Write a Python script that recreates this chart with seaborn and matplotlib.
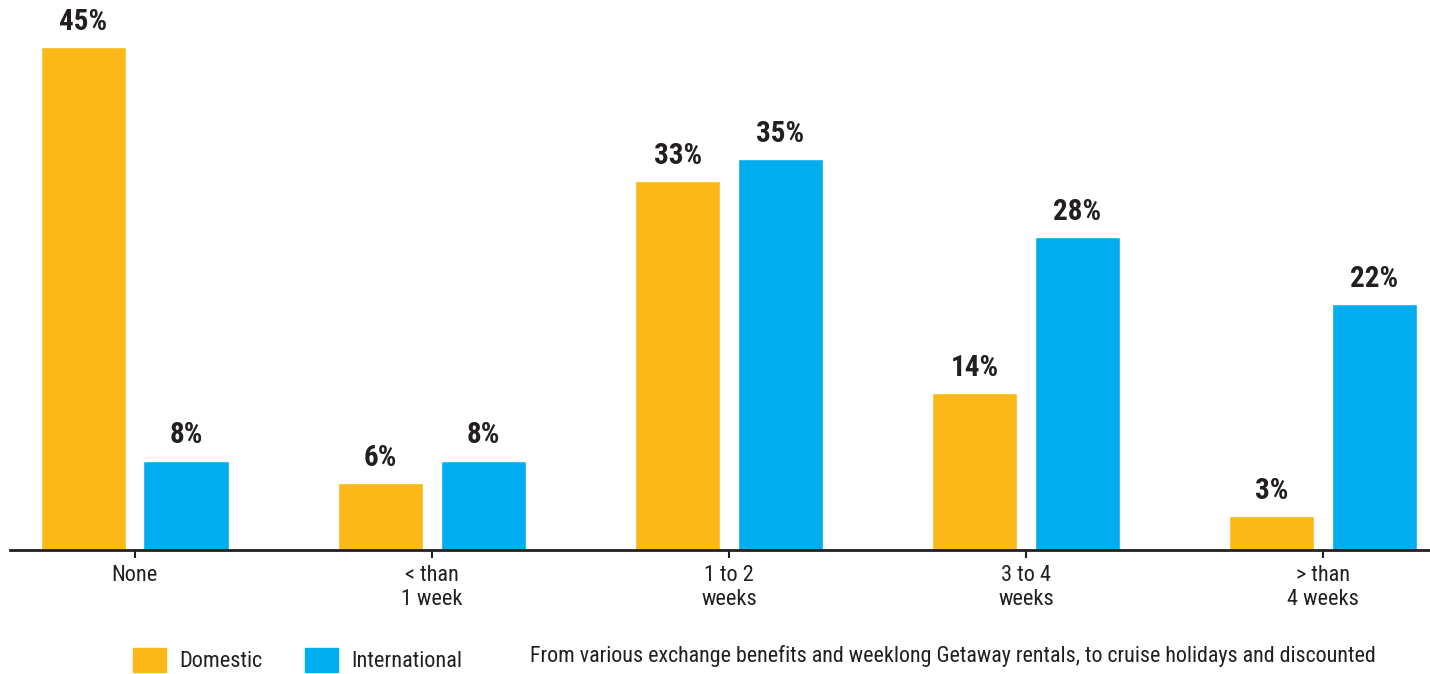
import pandas as pd
import seaborn as sns
import matplotlib.pyplot as plt

# Data
categories = ['None', '< than\n1 week', '1 to 2\nweeks', '3 to 4\nweeks', '> than\n4 weeks']
domestic = [45, 6, 33, 14, 3]
international = [8, 8, 35, 28, 22]
series = ['Domestic', 'International']
colors = ['#FBB817', '#00AEEF']
caption = 'From various exchange benefits and weeklong Getaway rentals, to cruise holidays and discounted'

df = pd.DataFrame({
    'category': categories * 2,
    'value': domestic + international,
    'type': [series[0]] * len(categories) + [series[1]] * len(categories),
})

sns.set_style('white')
plt.rcParams['font.family'] = ['Roboto Condensed', 'DejaVu Sans']
plt.rcParams['font.stretch'] = 'condensed'
ink = '#231F20'

fig = plt.figure(figsize=(14.3, 6.74), dpi=100)
ax = fig.add_axes([10 / 1430, 124 / 674, 1420 / 1430, 550 / 674])

sns.barplot(data=df, x='category', y='value', hue='type', palette=colors,
            width=0.69, gap=0.17, ax=ax, legend=False, saturation=1)

# Value labels above bars
for cont in ax.containers:
    ax.bar_label(cont, labels=[f'{v:.0f}%' for v in cont.datavalues],
                 padding=8, fontsize=21, fontweight='bold', color=ink)

ax.set_xlim(-0.42, 4.36)
ax.set_ylim(0, 49.2)
ax.set_xlabel('')
ax.set_ylabel('')
ax.set_yticks([])
for s in ['top', 'right', 'left']:
    ax.spines[s].set_visible(False)
ax.spines['bottom'].set_color(ink)
ax.spines['bottom'].set_linewidth(2)
ax.tick_params(axis='x', bottom=True, length=6, width=1.5, color=ink,
               labelsize=16, labelcolor=ink, pad=5)

# Legend and caption at the bottom
handles = [plt.Rectangle((0, 0), 1, 1, color=c) for c in colors]
fig.legend(handles, series, loc='center left', bbox_to_anchor=(113 / 1430, 1 - 660 / 674),
           ncol=2, frameon=False, fontsize=16, handlelength=1.5, handleheight=1.26,
           handletextpad=0.6, columnspacing=1.9, labelcolor=ink)
fig.text(530 / 1430, 1 - 656 / 674, caption, fontsize=15.8, color=ink, va='center', ha='left')

plt.savefig('out.png', dpi=100)
